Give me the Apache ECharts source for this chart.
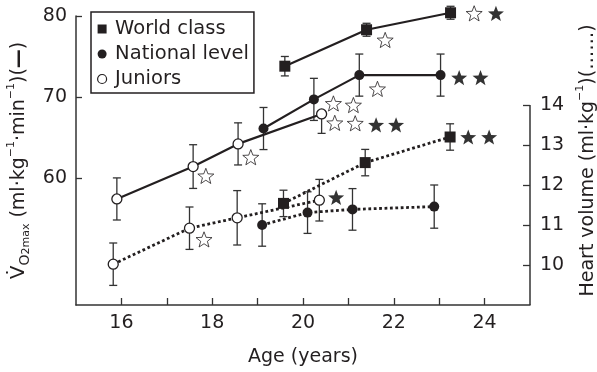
<!DOCTYPE html>
<html>
<head>
<meta charset="utf-8">
<script src="https://cdn.jsdelivr.net/npm/echarts@6/dist/echarts.min.js"></script>
<style>
  html, body { margin: 0; padding: 0; background: #fff; }
  #chart { width: 597px; height: 372px; }
</style>
</head>
<body>
<div id="chart"></div>
<script>
// Age (years) and VO2max (ml·kg-1·min-1), solid lines, left axis
const worldVo2Age = [19.6, 21.4, 23.25];
const worldVo2 = [73.8, 78.3, 80.4];
const worldVo2Err = [1.2, 0.8, 0.8];

const nationalVo2Age = [19.13, 20.24, 21.24, 23.03];
const nationalVo2 = [66.1, 69.7, 72.7, 72.7];
const nationalVo2Err = [2.6, 2.6, 2.6, 2.6];

const juniorsVo2Age = [15.9, 17.58, 18.57, 20.41];
const juniorsVo2 = [57.4, 61.4, 64.2, 67.9];
const juniorsVo2Err = [2.6, 2.7, 2.6, 2.4];
const juniorsVo2ErrUp = [2.6, 2.7, 2.6, 0];

// Heart volume (ml·kg-1), dotted lines, right axis
const worldHvAge = [19.57, 21.37, 23.24];
const worldHv = [11.54, 12.56, 13.2];
const worldHvErr = [0.33, 0.33, 0.33];

const nationalHvAge = [19.1, 20.1, 21.09, 22.89];
const nationalHv = [11.0, 11.31, 11.39, 11.46];
const nationalHvErr = [0.53, 0.52, 0.52, 0.54];

const juniorsHvAge = [15.82, 17.5, 18.55, 20.36];
const juniorsHv = [10.02, 10.92, 11.18, 11.62];
const juniorsHvErr = [0.53, 0.53, 0.68, 0.52];

// Significance stars: [age, value]
const openStarsVo2 = [[17.86, 60.25], [18.85, 62.56], [20.67, 69.2], [21.11, 69.0], [21.64, 71.0],
                      [21.81, 77.04], [20.70, 66.8], [21.15, 66.75], [23.77, 80.33]];
const filledStarsVo2 = [[21.61, 66.55], [22.05, 66.55], [23.44, 72.4], [23.91, 72.4], [24.25, 80.33]];
const openStarsHv = [[17.82, 10.64]];
const filledStarsHv = [[20.73, 11.69], [23.64, 13.2], [24.1, 13.2]];

// Axis ticks and labels
const ageTicks = [16, 17, 18, 19, 20, 21, 22, 23, 24];
const ageLabels = [16, 18, 20, 22, 24];
const vo2Ticks = [60, 70, 80];
const hvTicks = [10, 11, 12, 13, 14];

const INK = '#231f20';
const AXIS = '#333333';
const FONT = '"DejaVu Sans", sans-serif';
const FS = 19;
const STAR = 'path://M50 0 L62.34 33.01 L97.55 34.55 L69.97 56.49 L79.39 90.45 L50 71 L20.61 90.45 L30.03 56.49 L2.45 34.55 L37.66 33.01 Z';
const SQUARE = 'path://M0 0 H10 V10 H0 Z';

const pairs = (xs, ys) => xs.map((x, i) => [x, ys[i]]);
const errRows = (xs, ys, lo, hi) => xs.map((x, i) => [x, ys[i], lo[i], (hi || lo)[i]]);

function renderErr(params, api) {
  const x = api.value(0), y = api.value(1), lo = api.value(2), hi = api.value(3);
  const top = api.coord([x, y + hi]);
  const bot = api.coord([x, y - lo]);
  const half = 4;
  const style = { stroke: AXIS, lineWidth: 1.3, fill: null };
  const children = [{ type: 'line', shape: { x1: top[0], y1: top[1], x2: bot[0], y2: bot[1] }, style }];
  if (hi > 0) children.push({ type: 'line', shape: { x1: top[0] - half, y1: top[1], x2: top[0] + half, y2: top[1] }, style });
  if (lo > 0) children.push({ type: 'line', shape: { x1: bot[0] - half, y1: bot[1], x2: bot[0] + half, y2: bot[1] }, style });
  return { type: 'group', children };
}

function errSeries(rows, yAxisIndex) {
  return {
    type: 'custom', renderItem: renderErr, data: rows, yAxisIndex,
    encode: { x: 0, y: 1 }, clip: false, silent: true, z: 2
  };
}

const solid = { color: INK, width: 2.2, type: 'solid' };
const dotted = { color: INK, width: 2.8, type: [2.8, 2.6] };
const markSquare = { symbol: SQUARE, symbolSize: 11, symbolKeepAspect: true, itemStyle: { color: INK } };
const markFilled = { symbol: 'circle', symbolSize: 10, itemStyle: { color: INK } };
const markOpen = { symbol: 'circle', symbolSize: 10, itemStyle: { color: '#fff', borderColor: INK, borderWidth: 1.3 } };

function lineSeries(name, data, yAxisIndex, lineStyle, mark) {
  return Object.assign({
    type: 'line', name, data, yAxisIndex, lineStyle, showSymbol: true,
    clip: false, silent: true, z: 3
  }, mark);
}

function starSeries(data, yAxisIndex, filled) {
  return {
    type: 'scatter', data, yAxisIndex, symbol: STAR, symbolSize: 16, symbolKeepAspect: true,
    itemStyle: filled ? { color: '#000' } : { color: '#fff', borderColor: INK, borderWidth: 1 },
    clip: false, silent: true, z: 4
  };
}

const titleRich = {
  t: { fontSize: FS, fontFamily: FONT, color: INK, lineHeight: 26, verticalAlign: 'middle' },
  v: { fontSize: 20, fontFamily: FONT, color: INK, lineHeight: 26, verticalAlign: 'middle' },
  o: { fontSize: 14, fontFamily: FONT, color: INK, lineHeight: 19, verticalAlign: 'bottom' },
  sub: { fontSize: 11, fontFamily: FONT, color: INK, lineHeight: 15, verticalAlign: 'bottom' },
  sup: { fontSize: 11, fontFamily: FONT, color: INK, lineHeight: 15, verticalAlign: 'top' },
  dash: { fontSize: FS, fontFamily: FONT, color: INK, lineHeight: 26, fontWeight: 'bold', verticalAlign: 'middle' }
};

const chart = echarts.init(document.getElementById('chart'), null, { renderer: 'canvas' });

chart.setOption({
  animation: false,
  backgroundColor: '#fff',
  textStyle: { fontFamily: FONT, color: INK },
  grid: { left: 76, right: 67, top: 16, bottom: 67, containLabel: false, outerBoundsMode: 'none' },
  legend: {
    left: 91, top: 12,
    orient: 'vertical',
    padding: [7, 5, 4, 6],
    itemGap: 5,
    itemWidth: 14, itemHeight: 9,
    borderColor: INK, borderWidth: 1.5, borderRadius: 0,
    symbolKeepAspect: true,
    selectedMode: false,
    textStyle: { fontSize: 19.5, fontFamily: FONT, color: INK, lineHeight: 20, padding: [0, 0, 0, 1] },
    data: [
      { name: 'World class', icon: SQUARE, itemStyle: { color: INK } },
      { name: 'National level', icon: 'circle', itemStyle: { color: INK } },
      { name: 'Juniors', icon: 'circle', itemStyle: { color: '#fff', borderColor: INK, borderWidth: 1.2 } }
    ]
  },
  xAxis: {
    type: 'value', min: 15, max: 25,
    name: 'Age (years)', nameLocation: 'middle', nameGap: 43,
    nameTextStyle: { fontSize: FS, fontFamily: FONT, color: INK },
    axisLine: { show: true, onZero: false, lineStyle: { color: AXIS, width: 1.5 } },
    axisTick: { show: true, inside: true, length: 7, customValues: ageTicks, lineStyle: { color: AXIS, width: 1.3 } },
    axisLabel: { customValues: ageLabels, fontSize: FS, fontFamily: FONT, color: INK, margin: 9 },
    splitLine: { show: false }
  },
  yAxis: [
    {
      type: 'value', min: 44.3, max: 80, position: 'left',
      name: '{v|V\u0307}{o|O}{sub|2max}{t| (ml·kg}{sup|\u22121}{t|·min}{sup|\u22121}{t|)(}{dash|\u2014}{t|)}',
      nameLocation: 'middle', nameRotate: 90, nameGap: 36,
      nameTextStyle: { rich: titleRich },
      axisLine: { show: true, onZero: false, lineStyle: { color: AXIS, width: 1.5 } },
      axisTick: { show: true, inside: true, length: 6, customValues: vo2Ticks, lineStyle: { color: AXIS, width: 1.3 } },
      axisLabel: { customValues: vo2Ticks, fontSize: FS, fontFamily: FONT, color: INK, margin: 9 },
      splitLine: { show: false }
    },
    {
      type: 'value', min: 9, max: 16.225, position: 'right',
      name: '{t|Heart volume (ml·kg}{sup|\u22121}{t|)(\u2026\u2026)}',
      nameLocation: 'middle', nameRotate: 90, nameGap: 45,
      nameTextStyle: { rich: titleRich },
      axisLine: { show: false },
      axisTick: { show: true, inside: true, length: 7, customValues: hvTicks, lineStyle: { color: AXIS, width: 1.3 } },
      axisLabel: { customValues: hvTicks, fontSize: FS, fontFamily: FONT, color: INK, margin: 10 },
      splitLine: { show: false }
    }
  ],
  series: [
    errSeries(errRows(worldVo2Age, worldVo2, worldVo2Err), 0),
    errSeries(errRows(nationalVo2Age, nationalVo2, nationalVo2Err), 0),
    errSeries(errRows(juniorsVo2Age, juniorsVo2, juniorsVo2Err, juniorsVo2ErrUp), 0),
    errSeries(errRows(worldHvAge, worldHv, worldHvErr), 1),
    errSeries(errRows(nationalHvAge, nationalHv, nationalHvErr), 1),
    errSeries(errRows(juniorsHvAge, juniorsHv, juniorsHvErr), 1),

    lineSeries('World class', pairs(worldVo2Age, worldVo2), 0, solid, markSquare),
    lineSeries('National level', pairs(nationalVo2Age, nationalVo2), 0, solid, markFilled),
    lineSeries('Juniors', pairs(juniorsVo2Age, juniorsVo2), 0, solid, markOpen),
    lineSeries('World class HV', pairs(worldHvAge, worldHv), 1, dotted, markSquare),
    lineSeries('National level HV', pairs(nationalHvAge, nationalHv), 1, dotted, markFilled),
    lineSeries('Juniors HV', pairs(juniorsHvAge, juniorsHv), 1, dotted, markOpen),

    starSeries(openStarsVo2, 0, false),
    starSeries(filledStarsVo2, 0, true),
    starSeries(openStarsHv, 1, false),
    starSeries(filledStarsHv, 1, true),

    // Right axis line, spanning only the heart volume range
    {
      type: 'line', yAxisIndex: 1, data: [[25, 9], [25, 14]], symbol: 'none',
      lineStyle: { color: AXIS, width: 1.5 }, silent: true, clip: false, z: 1
    }
  ]
});
</script>
</body>
</html>
